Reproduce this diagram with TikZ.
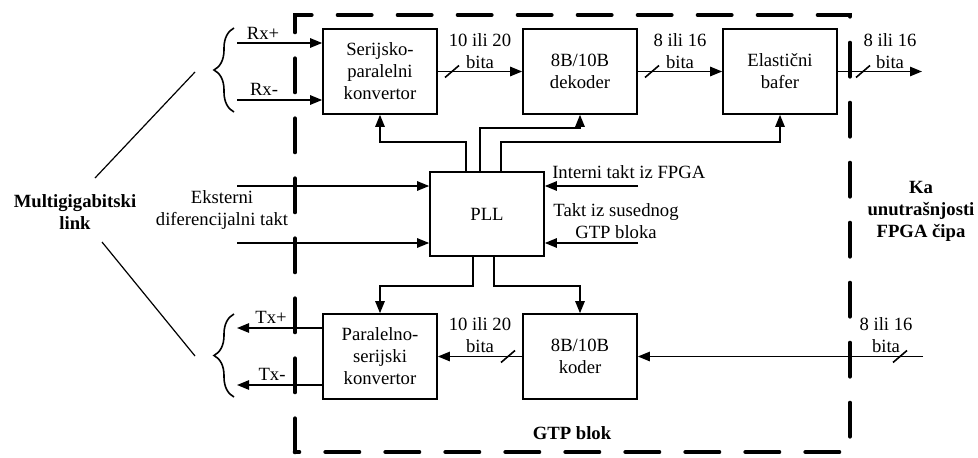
\documentclass[tikz,border=0pt]{standalone}
\usepackage{fontspec}
\setmainfont{Liberation Serif}
\usetikzlibrary{arrows.meta,calc,decorations.pathreplacing}
\tikzset{
  blok/.style={draw, line width=1.2pt, minimum width=85.5pt, minimum height=63.75pt, align=center, inner sep=0pt},
  strelica/.style={line width=1.2pt, -{Triangle[length=9pt,width=7pt]}},
  veza/.style={line width=1.2pt},
  natpis/.style={align=center, inner sep=0pt},
  zagrada/.style={line width=1.2pt, decorate, decoration={brace, amplitude=15pt}},
  granica/.style={line width=3.5pt, line cap=round, dash pattern=on 25pt off 20pt}
}
% kosa crta na magistrali
\newcommand{\kosa}[1]{\draw[veza] (#1) +(-7,6) -- +(7,-6);}
\begin{document}
\begin{tikzpicture}[x=0.75pt, y=-0.75pt, font=\fontsize{14}{16.5}\selectfont]
\useasboundingbox (0,0) rectangle (978,457);
% granica GTP bloka
\draw[granica] (295,452) -- (295,15) -- (850,15) -- (850,452) -- cycle;
% blokovi
\node[blok] (sp)  at (380,71.5)  {Serijsko-\\paralelni\\konvertor};
\node[blok] (dek) at (580,71.5)  {8B/10B\\dekoder};
\node[blok] (baf) at (780,71.5)  {Elastični\\bafer};
\node[blok, minimum height=63pt] (pll) at (487,214) {PLL};
\node[blok] (ps)  at (380,356.5) {Paralelno-\\serijski\\konvertor};
\node[blok] (kod) at (580,356.5) {8B/10B\\koder};
% prijemna strana
\coordinate (rxp) at (237,43);
\coordinate (rxm) at (237,100);
\draw[strelica] (rxp) -- (rxp -| sp.west);
\draw[strelica] (rxm) -- (rxm -| sp.west);
\node[natpis] (rxpl) at (263,33) {Rx+};
\node[natpis] (rxml) at (264,89) {Rx-};
\draw[zagrada] (234,112) -- (234,28);
\draw[strelica] (sp) -- (dek);
\draw[strelica] (dek) -- (baf);
\coordinate (izlaz) at (922,71.5);
\draw[strelica] (baf) -- (izlaz);
\kosa{452,71.5}
\kosa{652,71.5}
\kosa{863,71.5}
\node[natpis] (b1) at (480,51) {10 ili 20\\bita};
\node[natpis] (b2) at (680,51) {8 ili 16\\bita};
\node[natpis] (b3) at (890,51) {8 ili 16\\bita};
% predajna strana
\coordinate (ulaz) at (923,356.5);
\draw[strelica] (ulaz) -- (kod);
\draw[strelica] (kod) -- (ps);
\kosa{900,356.5}
\kosa{508,356.5}
\node[natpis] (b4) at (480,335) {10 ili 20\\bita};
\node[natpis] (b5) at (886,335) {8 ili 16\\bita};
\coordinate (txp) at (237,328);
\coordinate (txm) at (237,385);
\draw[strelica] (txp -| ps.west) -- (txp);
\draw[strelica] (txm -| ps.west) -- (txm);
\node[natpis] (txpl) at (271,317) {Tx+};
\node[natpis] (txml) at (272,374) {Tx-};
\draw[zagrada] (234,397) -- (234,314);
% takt
\draw[strelica] ($(pll.north)+(-21,0)$) -- ++(0,-29) -| (sp.south);
\draw[strelica] ($(pll.north)+(-7,0)$) -- ++(0,-43) -| (dek.south);
\draw[strelica] ($(pll.north)+(14,0)$) -- ++(0,-29) -| (baf.south);
\draw[strelica] ($(pll.south)+(-14,0)$) -- ++(0,29) -| (ps.north);
\draw[strelica] ($(pll.south)+(7,0)$) -- ++(0,29) -| (kod.north);
\coordinate (ext1) at (237,186);
\coordinate (ext2) at (237,243);
\draw[strelica] (ext1) -- (ext1 -| pll.west);
\draw[strelica] (ext2) -- (ext2 -| pll.west);
\coordinate (int1) at (638,186);
\coordinate (int2) at (638,243);
\draw[strelica] (int1) -- (int1 -| pll.east);
\draw[strelica] (int2) -- (int2 -| pll.east);
\node[natpis] (extl) at (222,210) {Eksterni\\diferencijalni takt};
\node[natpis, anchor=west] (intl) at (552,172) {Interni takt iz FPGA};
\node[natpis] (susl) at (616,221) {Takt iz susednog\\GTP bloka};
% opisi
\node[natpis, font=\fontsize{14}{16.5}\selectfont\bfseries] (mgl) at (75,212) {Multigigabitski\\link};
\coordinate (m1) at (195,72);
\coordinate (m2) at (95,178);
\coordinate (m3) at (102,242);
\coordinate (m4) at (195,356);
\draw[line width=0.9pt] (m1) -- (m2);
\draw[line width=0.9pt] (m3) -- (m4);
\node[natpis, font=\fontsize{14}{16.5}\selectfont\bfseries] (gtpl) at (572,433) {GTP blok};
\node[natpis, font=\fontsize{14}{16.5}\selectfont\bfseries] (fpgal) at (921,211) {Ka\\unutrašnjosti\\FPGA čipa};
\end{tikzpicture}
\end{document}
